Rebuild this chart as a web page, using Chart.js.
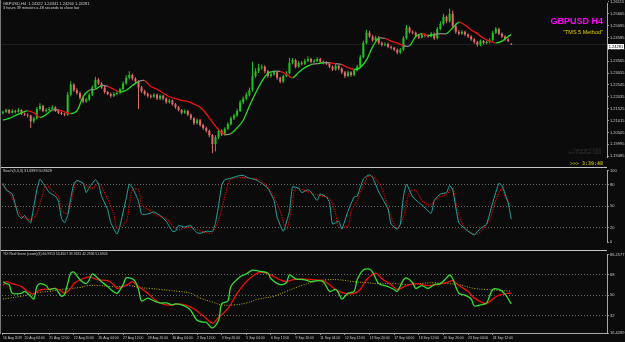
<!DOCTYPE html>
<html>
<head>
<meta charset="utf-8">
<title>GBPUSD H4 - TMS</title>
<script src="https://cdn.jsdelivr.net/npm/chart.js@4.4.1/dist/chart.umd.min.js"></script>
<style>
  html, body { margin: 0; padding: 0; background: #0b0b0b; }
  #wrap { position: relative; width: 625px; height: 342px; overflow: hidden; background: #0b0b0b;
          font-family: "Liberation Sans", Arial, sans-serif; }
  canvas { position: absolute; left: 0; }
  .txt { position: absolute; white-space: nowrap; line-height: 1; color: #cfcfcf; }
  .sep { position: absolute; left: 0; width: 607px; height: 1.5px; background: #c4c4c4; }
</style>
</head>
<body>
<div id="wrap">
  <canvas id="priceChart" style="top:0" width="625" height="167"></canvas>
  <canvas id="stochChart" style="top:167px" width="625" height="84"></canvas>
  <canvas id="tdiChart" style="top:251px" width="625" height="91"></canvas>

  <div class="sep" style="top:166.5px"></div>
  <div class="sep" style="top:249.8px"></div>
  <div style="position:absolute;left:0;top:0;width:1px;height:334px;background:#7a7a7a"></div>

  <div class="txt" style="left:3px;top:2.4px;font-size:4px">GBPUSD,H4&nbsp; 1.24322 1.24341 1.24260 1.24281</div>
  <div class="txt" style="left:3px;top:7px;font-size:3.8px">3 hours 39 minutes a 48 seconds to close bar</div>
  <div class="txt" style="right:22px;top:16.5px;font-size:9px;font-weight:bold;color:#ff00ff">GBPUSD H4</div>
  <div class="txt" style="right:22px;top:29.5px;font-size:5.5px;color:#e2d000">"TMS 5 Method"</div>
  <div class="txt" style="right:24px;top:148.5px;font-size:3.8px;color:#3a3a3a;text-align:right">Copyright©2016<br>tms 5 method 2016</div>
  <div class="txt" style="right:22px;top:160.6px;font-size:5px;font-weight:bold;font-family:'DejaVu Sans Mono',monospace;color:#b4b400">&gt;&gt;&gt; 3:39:48</div>
  <div class="txt" style="left:608px;top:44.2px;width:16px;height:5px;font-size:4px;background:#ffffff;color:#000;line-height:5px;text-align:center">1.24281</div>

  <div class="txt" style="left:3px;top:169.6px;font-size:3.7px">Stoch(5,3,3) 31.6999 50.8629</div>
  <div class="txt" style="left:3px;top:253px;font-size:3.4px">TDI Red Green (zoom)(3) 66.9913 53.4507 39.9181 42.2936 51.6905</div>
</div>

<script>
// ---- price panel (H4 candles, bar index 0 = first visible bar) ----
const opens = [
  1.2135, 1.2139, 1.2147, 1.2135, 1.2143, 1.2139, 1.2147, 1.2131, 1.2127, 1.2123,
  1.2099, 1.2111, 1.2151, 1.2164, 1.2143, 1.2147, 1.2151, 1.2159, 1.2143, 1.2135,
  1.2131, 1.2127, 1.2212, 1.2256, 1.2232, 1.2220, 1.2200, 1.2184, 1.2192, 1.2212,
  1.2244, 1.2277, 1.2261, 1.2244, 1.2224, 1.2216, 1.2208, 1.2216, 1.2220, 1.2236,
  1.2261, 1.2285, 1.2297, 1.2281, 1.2269, 1.2244, 1.2228, 1.2216, 1.2208, 1.2204,
  1.2212, 1.2196, 1.2208, 1.2196, 1.2180, 1.2188, 1.2172, 1.2159, 1.2147, 1.2135,
  1.2143, 1.2127, 1.2111, 1.2090, 1.2103, 1.2082, 1.2070, 1.2058, 1.2038, 1.2001,
  1.2030, 1.2058, 1.2042, 1.2066, 1.2086, 1.2111, 1.2123, 1.2143, 1.2180, 1.2196,
  1.2212, 1.2232, 1.2293, 1.2313, 1.2329, 1.2333, 1.2313, 1.2293, 1.2301, 1.2309,
  1.2285, 1.2269, 1.2293, 1.2305, 1.2350, 1.2362, 1.2333, 1.2350, 1.2346, 1.2358,
  1.2366, 1.2354, 1.2358, 1.2366, 1.2354, 1.2350, 1.2346, 1.2333, 1.2321, 1.2337,
  1.2325, 1.2309, 1.2293, 1.2309, 1.2297, 1.2317, 1.2333, 1.2374, 1.2435, 1.2479,
  1.2463, 1.2447, 1.2459, 1.2435, 1.2427, 1.2431, 1.2419, 1.2414, 1.2406, 1.2394,
  1.2406, 1.2455, 1.2500, 1.2483, 1.2479, 1.2467, 1.2459, 1.2471, 1.2467, 1.2463,
  1.2475, 1.2455, 1.2495, 1.2516, 1.2548, 1.2528, 1.2560, 1.2508, 1.2483, 1.2475,
  1.2483, 1.2471, 1.2463, 1.2451, 1.2439, 1.2427, 1.2443, 1.2435, 1.2439, 1.2447,
  1.2479, 1.2495, 1.2475, 1.2463, 1.2451, 1.2432
];
const highs = [
  1.2145, 1.2153, 1.2151, 1.2150, 1.2148, 1.2156, 1.2150, 1.2136, 1.2133, 1.2127,
  1.2118, 1.2160, 1.2176, 1.2170, 1.2155, 1.2160, 1.2167, 1.2163, 1.2149, 1.2140,
  1.2136, 1.2225, 1.2270, 1.2262, 1.2240, 1.2226, 1.2206, 1.2200, 1.2219, 1.2252,
  1.2290, 1.2284, 1.2266, 1.2250, 1.2230, 1.2222, 1.2224, 1.2228, 1.2243, 1.2270,
  1.2296, 1.2313, 1.2303, 1.2288, 1.2275, 1.2250, 1.2234, 1.2222, 1.2215, 1.2220,
  1.2217, 1.2214, 1.2212, 1.2201, 1.2195, 1.2192, 1.2177, 1.2164, 1.2151, 1.2150,
  1.2148, 1.2132, 1.2116, 1.2110, 1.2108, 1.2088, 1.2076, 1.2063, 1.2044, 1.2038,
  1.2066, 1.2064, 1.2073, 1.2094, 1.2119, 1.2131, 1.2152, 1.2190, 1.2205, 1.2222,
  1.2244, 1.2354, 1.2326, 1.2346, 1.2342, 1.2339, 1.2319, 1.2309, 1.2317, 1.2314,
  1.2290, 1.2300, 1.2313, 1.2372, 1.2370, 1.2367, 1.2358, 1.2356, 1.2367, 1.2378,
  1.2372, 1.2366, 1.2375, 1.2371, 1.2360, 1.2356, 1.2351, 1.2338, 1.2345, 1.2341,
  1.2330, 1.2314, 1.2316, 1.2313, 1.2324, 1.2341, 1.2383, 1.2445, 1.2492, 1.2488,
  1.2470, 1.2466, 1.2465, 1.2441, 1.2438, 1.2436, 1.2424, 1.2419, 1.2411, 1.2413,
  1.2465, 1.2512, 1.2506, 1.2490, 1.2484, 1.2472, 1.2478, 1.2476, 1.2472, 1.2482,
  1.2480, 1.2504, 1.2528, 1.2560, 1.2553, 1.2582, 1.2575, 1.2513, 1.2490, 1.2490,
  1.2488, 1.2477, 1.2468, 1.2456, 1.2444, 1.2450, 1.2448, 1.2446, 1.2455, 1.2488,
  1.2504, 1.2500, 1.2480, 1.2468, 1.2458, 1.2434
];
const lows = [
  1.2128, 1.2134, 1.2130, 1.2131, 1.2133, 1.2135, 1.2125, 1.2121, 1.2115, 1.2070,
  1.2090, 1.2106, 1.2145, 1.2137, 1.2136, 1.2140, 1.2146, 1.2138, 1.2130, 1.2126,
  1.2120, 1.2122, 1.2205, 1.2225, 1.2213, 1.2192, 1.2176, 1.2178, 1.2186, 1.2207,
  1.2238, 1.2254, 1.2238, 1.2218, 1.2210, 1.2200, 1.2203, 1.2210, 1.2215, 1.2230,
  1.2255, 1.2278, 1.2274, 1.2262, 1.2151, 1.2220, 1.2209, 1.2200, 1.2196, 1.2198,
  1.2190, 1.2190, 1.2189, 1.2174, 1.2175, 1.2165, 1.2152, 1.2140, 1.2128, 1.2130,
  1.2120, 1.2104, 1.2082, 1.2085, 1.2075, 1.2062, 1.2050, 1.2030, 1.1961, 1.1970,
  1.2022, 1.2035, 1.2036, 1.2060, 1.2080, 1.2104, 1.2117, 1.2138, 1.2172, 1.2189,
  1.2205, 1.2226, 1.2285, 1.2306, 1.2320, 1.2305, 1.2286, 1.2285, 1.2294, 1.2277,
  1.2262, 1.2263, 1.2288, 1.2300, 1.2343, 1.2326, 1.2328, 1.2338, 1.2340, 1.2352,
  1.2348, 1.2348, 1.2352, 1.2347, 1.2343, 1.2340, 1.2326, 1.2314, 1.2316, 1.2318,
  1.2302, 1.2284, 1.2288, 1.2290, 1.2292, 1.2312, 1.2328, 1.2369, 1.2430, 1.2457,
  1.2440, 1.2442, 1.2428, 1.2420, 1.2421, 1.2412, 1.2407, 1.2399, 1.2386, 1.2388,
  1.2401, 1.2450, 1.2476, 1.2472, 1.2460, 1.2452, 1.2454, 1.2460, 1.2457, 1.2458,
  1.2448, 1.2450, 1.2490, 1.2510, 1.2520, 1.2522, 1.2500, 1.2475, 1.2468, 1.2469,
  1.2464, 1.2456, 1.2444, 1.2432, 1.2419, 1.2421, 1.2428, 1.2429, 1.2433, 1.2442,
  1.2473, 1.2468, 1.2456, 1.2444, 1.2438, 1.2426
];
const closes = [
  1.2139, 1.2147, 1.2135, 1.2143, 1.2139, 1.2147, 1.2131, 1.2127, 1.2123, 1.2099,
  1.2111, 1.2151, 1.2164, 1.2143, 1.2147, 1.2151, 1.2159, 1.2143, 1.2135, 1.2131,
  1.2127, 1.2212, 1.2256, 1.2232, 1.2220, 1.2200, 1.2184, 1.2192, 1.2212, 1.2244,
  1.2277, 1.2261, 1.2244, 1.2224, 1.2216, 1.2208, 1.2216, 1.2220, 1.2236, 1.2261,
  1.2285, 1.2297, 1.2281, 1.2269, 1.2244, 1.2228, 1.2216, 1.2208, 1.2204, 1.2212,
  1.2196, 1.2208, 1.2196, 1.2180, 1.2188, 1.2172, 1.2159, 1.2147, 1.2135, 1.2143,
  1.2127, 1.2111, 1.2090, 1.2103, 1.2082, 1.2070, 1.2058, 1.2038, 1.2001, 1.2030,
  1.2058, 1.2042, 1.2066, 1.2086, 1.2111, 1.2123, 1.2143, 1.2180, 1.2196, 1.2212,
  1.2232, 1.2293, 1.2313, 1.2329, 1.2333, 1.2313, 1.2293, 1.2301, 1.2309, 1.2285,
  1.2269, 1.2293, 1.2305, 1.2350, 1.2362, 1.2333, 1.2350, 1.2346, 1.2358, 1.2366,
  1.2354, 1.2358, 1.2366, 1.2354, 1.2350, 1.2346, 1.2333, 1.2321, 1.2337, 1.2325,
  1.2309, 1.2293, 1.2309, 1.2297, 1.2317, 1.2333, 1.2374, 1.2435, 1.2479, 1.2463,
  1.2447, 1.2459, 1.2435, 1.2427, 1.2431, 1.2419, 1.2414, 1.2406, 1.2394, 1.2406,
  1.2455, 1.2500, 1.2483, 1.2479, 1.2467, 1.2459, 1.2471, 1.2467, 1.2463, 1.2475,
  1.2455, 1.2495, 1.2516, 1.2548, 1.2528, 1.2560, 1.2508, 1.2483, 1.2475, 1.2483,
  1.2471, 1.2463, 1.2451, 1.2439, 1.2427, 1.2443, 1.2435, 1.2439, 1.2447, 1.2479,
  1.2495, 1.2475, 1.2463, 1.2451, 1.2443, 1.2428
];

// trend line on the price panel (read every 2nd bar)
const trendIdx = [0, 2, 4, 6, 8, 10, 12, 14, 16, 18, 20, 22, 24, 26, 28, 30, 32, 34, 36, 38,
  40, 42, 44, 46, 48, 50, 52, 54, 56, 58, 60, 62, 64, 66, 68, 70, 72, 74, 76, 78,
  80, 82, 84, 86, 88, 90, 92, 94, 96, 98, 100, 102, 104, 106, 108, 110, 112, 114, 116, 118,
  120, 122, 124, 126, 128, 130, 132, 134, 136, 138, 140, 142, 144, 146, 148, 150, 152, 154, 156, 158,
  160, 162, 164, 165];
const trendVal = [1.2103, 1.2111, 1.2123, 1.2135, 1.2143, 1.2135, 1.2115, 1.2127, 1.2147, 1.2147,
  1.2139, 1.2131, 1.2143, 1.2204, 1.2232, 1.2236, 1.2252, 1.2248, 1.2236, 1.2224,
  1.2232, 1.2252, 1.2269, 1.2273, 1.2248, 1.2236, 1.2220, 1.2204, 1.2196, 1.2188,
  1.2184, 1.2172, 1.2159, 1.2131, 1.2095, 1.2062, 1.2042, 1.2046, 1.2070, 1.2103,
  1.2164, 1.2220, 1.2269, 1.2305, 1.2313, 1.2313, 1.2301, 1.2285, 1.2309, 1.2329,
  1.2342, 1.2346, 1.2350, 1.2350, 1.2346, 1.2342, 1.2329, 1.2321, 1.2329, 1.2362,
  1.2418, 1.2455, 1.2455, 1.2443, 1.2435, 1.2423, 1.2423, 1.2463, 1.2475, 1.2467,
  1.2471, 1.2475, 1.2475, 1.2500, 1.2524, 1.2512, 1.2491, 1.2475, 1.2455, 1.2443,
  1.2435, 1.2443, 1.2463, 1.2471];

const bidPrice = 1.24281;
const priceMin = 1.1945;
const priceMax = 1.2605;
const priceTicks = [1.26115, 1.25605, 1.25095, 1.24585, 1.24075, 1.23565, 1.23055,
  1.22545, 1.22035, 1.21525, 1.21015, 1.20505, 1.19995, 1.19485];

// ---- Stochastic (5,3,3) ----
const stochMainIdx = [0, 1, 3, 4, 5, 6, 7, 8, 9, 10, 11, 12, 13, 14, 15, 17, 18, 19, 20, 21,
  22, 23, 24, 26, 27, 28, 30, 31, 32, 34, 35, 37, 38, 40, 41, 42, 44, 45, 47, 49,
  51, 53, 55, 56, 57, 59, 61, 62, 63, 64, 66, 68, 69, 70, 71, 72, 74, 76, 78, 80,
  82, 84, 86, 88, 89, 91, 93, 94, 96, 97, 99, 100, 102, 103, 105, 106, 107, 109, 110, 112,
  114, 115, 117, 119, 120, 122, 125, 126, 128, 129, 130, 131, 133, 135, 136, 139, 140, 142, 144, 145,
  146, 148, 151, 153, 155, 157, 159, 161, 162, 164, 165];
const stochMainVal = [82, 73, 67, 52, 37, 33, 37, 31, 27, 49, 73, 88, 82, 76, 69, 64, 57, 33, 27, 37,
  61, 81, 86, 82, 69, 76, 87, 81, 64, 45, 27, 11, 23, 61, 81, 76, 57, 39, 39, 42,
  37, 29, 15, 15, 23, 21, 23, 17, 13, 12, 15, 15, 27, 51, 79, 87, 89, 92, 93, 89,
  87, 82, 75, 58, 35, 15, 43, 77, 75, 69, 73, 70, 58, 67, 63, 55, 25, 29, 18, 43,
  63, 64, 88, 94, 90, 70, 46, 25, 18, 25, 63, 81, 63, 55, 52, 40, 58, 67, 69, 79,
  73, 27, 15, 10, 19, 25, 55, 82, 79, 55, 32];
const stochSignalIdx = [0, 2, 6, 9, 11, 14, 15, 18, 19, 21, 23, 24, 27, 29, 31, 33, 36, 37, 40, 42,
  44, 45, 48, 50, 53, 55, 57, 60, 63, 66, 68, 70, 73, 74, 78, 82, 84, 87, 90, 92,
  94, 95, 99, 101, 104, 106, 108, 109, 112, 113, 115, 117, 119, 121, 123, 126, 128, 130, 132, 134,
  136, 138, 139, 141, 144, 146, 147, 149, 152, 154, 156, 158, 160, 162, 163, 165];
const stochSignalVal = [79, 69, 37, 31, 40, 81, 76, 63, 45, 40, 73, 85, 79, 75, 82, 69, 39, 19, 29, 73,
  73, 52, 43, 37, 33, 23, 17, 21, 17, 13, 13, 31, 79, 88, 90, 88, 85, 70, 43, 17,
  55, 75, 70, 67, 64, 61, 39, 21, 23, 43, 58, 79, 93, 88, 75, 35, 19, 35, 70, 72,
  58, 52, 52, 61, 67, 75, 55, 27, 13, 11, 19, 31, 58, 75, 63, 51];
const stochTicks = [100, 80, 50, 20, 0];
const stochLevels = [80, 50, 20];

// ---- TDI ----
const tdiGreenIdx = [0, 1, 2, 3, 6, 7, 9, 10, 11, 12, 14, 15, 17, 19, 20, 21, 22, 23, 25, 27,
  28, 29, 31, 32, 34, 35, 37, 39, 40, 42, 43, 44, 45, 47, 49, 51, 53, 55, 56, 58,
  60, 61, 63, 65, 66, 68, 70, 71, 73, 74, 77, 79, 81, 83, 86, 87, 90, 92, 93, 95,
  98, 100, 102, 104, 106, 108, 109, 110, 112, 114, 115, 117, 119, 120, 122, 125, 127, 128, 130, 131,
  133, 134, 136, 138, 140, 142, 144, 145, 146, 148, 150, 152, 153, 155, 157, 159, 161, 163, 165];
const tdiGreenVal = [62.0, 60.3, 59.4, 51.7, 51.7, 53.4, 49.1, 46.6, 57.7, 60.3, 58.6, 55.1, 56.0, 49.1, 50.9, 60.3, 69.7, 70.6, 63.7, 60.3,
  63.7, 68.9, 64.6, 62.0, 57.7, 55.1, 51.7, 59.4, 65.4, 64.6, 62.0, 55.1, 44.9, 47.4, 44.9, 43.1, 43.1, 41.4, 42.3, 41.4,
  38.9, 36.3, 27.7, 26.0, 26.0, 20.9, 27.7, 42.3, 44.9, 57.7, 66.3, 68.9, 72.3, 71.4, 69.7, 64.6, 59.4, 61.1, 68.0, 64.6,
  63.7, 62.0, 62.9, 62.0, 53.4, 55.1, 51.7, 46.6, 51.7, 53.4, 63.7, 72.3, 73.1, 70.6, 60.3, 57.7, 55.1, 53.4, 63.7, 65.4,
  61.1, 56.0, 58.6, 56.0, 59.4, 60.3, 65.4, 68.0, 64.6, 51.7, 50.0, 46.6, 40.6, 41.4, 43.1, 55.1, 55.1, 50.9, 42.3];
const tdiRedIdx = [0, 1, 3, 6, 8, 10, 11, 13, 15, 17, 19, 20, 22, 23, 26, 28, 30, 31, 34, 36,
  37, 39, 41, 42, 44, 47, 49, 51, 53, 55, 57, 60, 62, 64, 66, 68, 70, 73, 76, 79,
  82, 84, 87, 90, 92, 94, 97, 101, 104, 106, 108, 111, 114, 116, 118, 121, 123, 126, 128, 131,
  134, 138, 141, 144, 146, 148, 151, 153, 156, 157, 159, 161, 164, 165];
const tdiRedVal = [58.6, 62.0, 60.3, 57.7, 53.4, 50.9, 53.4, 55.1, 55.1, 56.0, 53.4, 51.7, 56.0, 60.3, 64.6, 66.3, 64.6, 63.7, 62.9, 59.4,
  56.0, 57.7, 60.3, 62.0, 57.7, 51.7, 46.6, 43.1, 41.4, 41.4, 42.3, 40.6, 38.0, 33.7, 29.4, 25.1, 30.3, 38.0, 51.7, 62.0,
  68.9, 70.6, 68.0, 63.7, 62.0, 63.7, 64.6, 63.7, 62.9, 59.4, 55.1, 51.7, 51.7, 55.1, 63.7, 69.7, 64.6, 59.4, 55.1, 58.6,
  60.3, 58.6, 59.4, 61.1, 62.9, 58.6, 53.4, 47.4, 43.1, 42.3, 46.6, 50.0, 51.7, 51.7];
const tdiBaseIdx = [0, 2, 6, 9, 12, 15, 19, 22, 25, 28, 31, 35, 38, 41, 44, 48, 51, 54, 57, 61,
  64, 68, 71, 75, 79, 83, 88, 92, 96, 101, 105, 109, 114, 118, 122, 127, 131, 135, 140, 144,
  148, 153, 157, 161, 165];
const tdiBaseVal = [46.6, 47.4, 49.1, 50.9, 52.6, 53.4, 55.1, 56.0, 56.9, 58.6, 58.6, 57.7, 57.7, 58.6, 56.9, 56.0, 55.1, 54.3, 53.4, 51.7,
  47.4, 44.0, 41.4, 41.4, 43.1, 46.6, 49.1, 53.4, 57.7, 62.0, 63.7, 63.7, 62.0, 61.1, 60.3, 60.3, 59.4, 60.3, 61.1, 60.3,
  59.4, 56.0, 55.1, 54.3, 53.5];
const tdiTicks = [86.2577, 68, 50, 32, 16.4289];
const tdiLevels = [68, 50, 32];

// ---- time axis ----
const timeTickIdx = [0, 7, 15, 23, 31, 39, 47, 55, 63, 71, 79, 87, 95, 103, 111, 119, 127, 135, 143, 151, 159];
const timeTickText = ['16 Aug 2019', '20 Aug 04:00', '21 Aug 12:00', '22 Aug 20:00', '26 Aug 04:00',
  '27 Aug 12:00', '28 Aug 20:00', '30 Aug 04:00', '2 Sep 12:00', '3 Sep 20:00', '5 Sep 04:00',
  '6 Sep 12:00', '9 Sep 20:00', '11 Sep 04:00', '12 Sep 12:00', '13 Sep 20:00', '17 Sep 04:00',
  '18 Sep 12:00', '19 Sep 20:00', '23 Sep 04:00', '24 Sep 12:00'];
const xMin = -0.32;
const xMax = 196.1;

// ---- styling ----
const upColor = '#22c322';
const downColor = '#e46a6a';
const axisText = '#c8c8c8';
const tickFont = { family: 'Liberation Sans', size: 4 };
const timeFont = { family: 'Liberation Sans Narrow, Liberation Sans', size: 3.4 };

function pairs(idx, vals) {
    return idx.map((x, k) => ({ x: x, y: vals[k] }));
}

function timeAxis(show) {
    return {
        type: 'linear', min: xMin, max: xMax, display: show, offset: false,
        afterBuildTicks: s => { s.ticks = timeTickIdx.map(v => ({ value: v })); },
        afterFit: s => { s.height = 9; },
        ticks: {
            autoSkip: false, maxRotation: 0, align: 'start', padding: 1.5,
            color: axisText, font: timeFont,
            callback: (v, i) => timeTickText[i]
        },
        grid: { drawOnChartArea: false, tickLength: 2, color: '#8c8c8c' },
        border: { color: '#a8a8a8' }
    };
}

function sideAxis(min, max, ticks, levels, fmt) {
    return {
        position: 'right', min: min, max: max,
        afterBuildTicks: s => { s.ticks = ticks.map(v => ({ value: v })); },
        afterFit: s => { s.width = 18; },
        ticks: { color: axisText, font: tickFont, padding: 1, callback: fmt },
        grid: {
            drawOnChartArea: levels.length > 0,
            color: c => (c.tick && levels.includes(c.tick.value)) ? '#6a6a6a' : 'rgba(0,0,0,0)',
            tickColor: '#8c8c8c', tickLength: 2, tickBorderDash: []
        },
        border: { color: '#a8a8a8', dash: [1, 2] }
    };
}

const baseOptions = {
    responsive: false,
    animation: false,
    events: [],
    plugins: { legend: { display: false }, tooltip: { enabled: false } }
};

// Price panel
const candleColors = opens.map((o, i) => closes[i] >= o ? upColor : downColor);
new Chart(document.getElementById('priceChart').getContext('2d'), {
    type: 'bar',
    data: {
        datasets: [
            {
                type: 'line', order: 0,
                data: pairs(trendIdx, trendVal),
                borderWidth: 1.3, pointRadius: 0, tension: 0.3,
                borderColor: '#22dd22',
                segment: {
                    borderColor: c => {
                        const d = c.p1.parsed.y - c.p0.parsed.y;
                        if (d > 0.0004) return '#22dd22';
                        if (d < -0.0004) return '#ee1111';
                        return '#8a8a8a';
                    }
                }
            },
            {
                order: 1, grouped: false, maxBarThickness: 2, minBarLength: 0.8,
                data: opens.map((o, i) => ({ x: i, y: [o, closes[i]] })),
                backgroundColor: candleColors, borderWidth: 0
            },
            {
                order: 2, grouped: false, maxBarThickness: 1,
                data: opens.map((o, i) => ({ x: i, y: [lows[i], highs[i]] })),
                backgroundColor: candleColors, borderWidth: 0
            },
            {
                type: 'line', order: 3,
                data: [{ x: xMin, y: bidPrice }, { x: xMax, y: bidPrice }],
                borderColor: '#262626', borderWidth: 0.8, pointRadius: 0
            }
        ]
    },
    options: Object.assign({}, baseOptions, {
        layout: { padding: { left: 2, right: 0, top: 3, bottom: 1 } },
        scales: {
            x: timeAxis(false),
            y: sideAxis(priceMin, priceMax, priceTicks, [], v => v.toFixed(5))
        }
    })
});

// Stochastic panel
new Chart(document.getElementById('stochChart').getContext('2d'), {
    type: 'line',
    data: {
        datasets: [
            {
                data: pairs(stochMainIdx, stochMainVal),
                borderColor: '#20a8a0', borderWidth: 1, pointRadius: 0, tension: 0.15
            },
            {
                data: pairs(stochSignalIdx, stochSignalVal),
                borderColor: '#e00000', borderWidth: 1.2, borderDash: [1.2, 1.2], pointRadius: 0, tension: 0.3
            }
        ]
    },
    options: Object.assign({}, baseOptions, {
        layout: { padding: { left: 2, right: 0, top: 0, bottom: 0 } },
        scales: {
            x: timeAxis(false),
            y: sideAxis(0, 100, stochTicks, stochLevels, v => String(v))
        }
    })
});

// TDI panel
new Chart(document.getElementById('tdiChart').getContext('2d'), {
    type: 'line',
    data: {
        datasets: [
            {
                data: pairs(tdiGreenIdx, tdiGreenVal),
                borderColor: '#35dc35', borderWidth: 1.3, pointRadius: 0, tension: 0.3
            },
            {
                data: pairs(tdiRedIdx, tdiRedVal),
                borderColor: '#ee0c0c', borderWidth: 1.3, pointRadius: 0, tension: 0.3
            },
            {
                data: pairs(tdiBaseIdx, tdiBaseVal),
                borderColor: '#b8b000', borderWidth: 1, borderDash: [1, 1.5], pointRadius: 0, tension: 0.4
            }
        ]
    },
    options: Object.assign({}, baseOptions, {
        layout: { padding: { left: 2, right: 0, top: 0.7, bottom: 0 } },
        scales: {
            x: timeAxis(true),
            y: sideAxis(16.4289, 86.2577, tdiTicks, tdiLevels,
                v => Number.isInteger(v) ? String(v) : v.toFixed(4))
        }
    })
});
</script>
</body>
</html>
